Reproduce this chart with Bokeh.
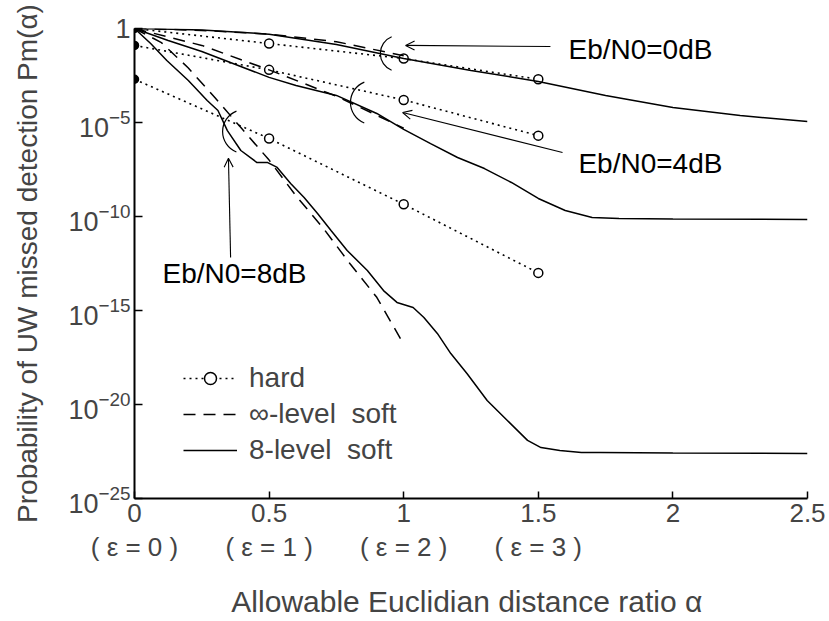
from bokeh.plotting import figure
from bokeh.models import (Range1d, FixedTicker, LinearAxis, CustomJSTickFormatter,
                          LogTickFormatter, Legend, LegendItem, Arrow, OpenHead, Label)
from bokeh.embed import file_html
from bokeh.resources import INLINE

FONT = "Liberation Sans"

# ---------------- data (y given as log10 of probability) ----------------
x_ticks = [0, 0.5, 1, 1.5, 2, 2.5]
x_tick_labels = ["0", "0.5", "1", "1.5", "2", "2.5"]
eps_labels = ["( ε = 0 )", "( ε = 1 )", "( ε = 2 )", "( ε = 3 )", "", ""]
y_ticks = [1e-25, 1e-20, 1e-15, 1e-10, 1e-5, 1]

# hard decision (dotted + circles)
hard_x = [0, 0.5, 1.0, 1.5]
hard_0dB = [0.0, -0.8, -1.6, -2.7]
hard_4dB = [-0.9, -2.2, -3.8, -5.7]
hard_8dB = [-2.7, -5.85, -9.35, -13.0]

# infinite-level soft (dashed)
inf_0dB_x = [0, 0.25, 0.5, 0.75, 1.0]
inf_0dB = [0.0, -0.1, -0.3, -0.7, -1.45]
inf_4dB_x = [0, 0.25, 0.5, 0.75, 1.0]
inf_4dB = [0.0, -0.9, -2.2, -3.6, -5.3]
inf_8dB_x = [0, 0.1, 0.2, 0.3, 0.4, 0.5, 0.6, 0.7, 0.8, 0.9, 1.0]
inf_8dB = [0.0, -0.75, -2.1, -3.7, -5.35, -7.0, -8.9, -10.6, -12.5, -14.3, -16.8]

# 8-level soft (solid)
s8_0dB_x = [0, 0.1, 0.25, 0.5, 0.75, 1.0, 1.25, 1.5, 1.75, 2.0, 2.25, 2.5]
s8_0dB = [0.0, -0.02, -0.08, -0.3, -0.85, -1.6, -2.23, -2.82, -3.56, -4.2, -4.63, -4.95]
s8_4dB_x = [0, 0.125, 0.25, 0.5, 0.6, 0.75, 0.9, 1.0, 1.1, 1.2, 1.3, 1.4, 1.5,
            1.6, 1.7, 1.8, 2.0, 2.5]
s8_4dB = [0.0, -0.64, -1.22, -2.6, -3.03, -3.56, -4.52, -5.37, -6.12, -6.86, -7.45,
          -8.19, -9.04, -9.68, -10.05, -10.1, -10.13, -10.16]
s8_8dB_x = [0, 0.06, 0.12, 0.2, 0.27, 0.31, 0.345, 0.395, 0.455, 0.495, 0.53, 0.58,
            0.63, 0.68, 0.73, 0.79, 0.865, 0.925, 0.975, 1.035, 1.075, 1.125, 1.175,
            1.235, 1.31, 1.385, 1.46, 1.51, 1.58, 1.66, 1.73, 2.0, 2.5]
s8_8dB = [0.0, -0.8, -1.7, -2.77, -3.83, -4.36, -5.43, -6.49, -7.13, -7.13, -7.39,
          -8.24, -8.99, -9.84, -10.74, -11.81, -12.87, -13.94, -14.57, -14.84, -15.37,
          -16.22, -17.29, -18.35, -19.79, -20.85, -21.91, -22.29, -22.45, -22.55,
          -22.55, -22.58, -22.6]


def pw(a):
    return [10.0 ** v for v in a]


p = figure(width=829, height=621, y_axis_type="log",
           x_range=Range1d(0, 2.5), y_range=Range1d(1e-25, 1),
           output_backend="svg", toolbar_location=None,
           min_border_left=134, min_border_right=22, min_border_top=28,
           min_border_bottom=123, background_fill_color="white",
           border_fill_color="white")
p.grid.visible = False
p.outline_line_color = None

LW = 1.5
DOT = "2 4"
DASH = "12 8"

# hard
hard_rs = []
for ys in (hard_0dB, hard_4dB, hard_8dB):
    rl = p.line(hard_x, pw(ys), line_color="black", line_width=1.6, line_dash=DOT)
    rs = p.scatter(hard_x[1:], pw(ys[1:]), marker="circle", size=9, fill_color="white",
                   line_color="black", line_width=1.5)
    p.scatter(hard_x[:1], pw(ys[:1]), marker="circle", size=8, fill_color="black",
              line_color="black", line_width=1.5)
    hard_rs.append((rl, rs))

inf_rs = []
for xs, ys in ((inf_0dB_x, inf_0dB), (inf_4dB_x, inf_4dB), (inf_8dB_x, inf_8dB)):
    inf_rs.append(p.line(xs, pw(ys), line_color="black", line_width=LW, line_dash=DASH))

s8_rs = []
for xs, ys in ((s8_0dB_x, s8_0dB), (s8_4dB_x, s8_4dB), (s8_8dB_x, s8_8dB)):
    s8_rs.append(p.line(xs, pw(ys), line_color="black", line_width=LW))

# brackets grouping curves
p.arc(x=[0.98, 0.884, 0.409], y=pw([-1.33, -3.94, -5.48]), radius=[18, 22, 22],
      radius_units="screen", start_angle=1.95, end_angle=4.33,
      line_color="black", line_width=1.2)

# annotations
arrows = [((1.545, -0.96), (1.007, -0.9)),
          ((1.59, -6.6), (0.996, -4.47)),
          ((0.357, -12.18), (0.349, -6.9))]
for (xs, ys), (xe, ye) in arrows:
    p.add_layout(Arrow(end=OpenHead(size=9, line_width=1.1, line_color="black"),
                       x_start=xs, y_start=10 ** ys, x_end=xe, y_end=10 ** ye,
                       line_width=1.1, line_color="black"))

for txt, xx, yy in (("Eb/N0=0dB", 1.612, -1.12), ("Eb/N0=4dB", 1.649, -7.18),
                    ("Eb/N0=8dB", 0.104, -13.03)):
    p.add_layout(Label(x=xx, y=10 ** yy, text=txt, text_font=FONT,
                       text_font_size="28px", text_baseline="middle",
                       text_color="black"))

LOOKUP = "const i = xt.indexOf(tick); return i >= 0 ? lbls[i] : '';"

# axes
xa = p.xaxis[0]
xa.ticker = FixedTicker(ticks=x_ticks)
xa.formatter = CustomJSTickFormatter(args=dict(xt=x_ticks, lbls=x_tick_labels), code=LOOKUP)
xa.major_tick_in = 7
xa.major_tick_out = 0
xa.minor_tick_in = 0
xa.minor_tick_out = 0
xa.axis_line_width = 2
xa.major_tick_line_width = 1.5
xa.major_label_text_font = FONT
xa.major_label_text_font_size = "26px"
xa.major_label_standoff = 5

xa2 = LinearAxis(ticker=FixedTicker(ticks=x_ticks),
                 formatter=CustomJSTickFormatter(args=dict(xt=x_ticks, lbls=eps_labels),
                                                 code=LOOKUP),
                 axis_line_color=None, major_tick_line_color=None,
                 minor_tick_line_color=None, major_tick_in=0, major_tick_out=0,
                 major_label_text_font=FONT, major_label_text_font_size="26px",
                 major_label_standoff=7,
                 axis_label="Allowable Euclidian distance ratio  α",
                 axis_label_text_font=FONT, axis_label_text_font_size="30px",
                 axis_label_text_font_style="normal", axis_label_standoff=20)
p.add_layout(xa2, "below")

ya = p.yaxis[0]
ya.ticker = FixedTicker(ticks=y_ticks)
ya.formatter = LogTickFormatter(min_exponent=1)
ya.major_tick_in = 8
ya.major_tick_out = 0
ya.minor_tick_in = 0
ya.minor_tick_out = 0
ya.axis_line_width = 2
ya.major_tick_line_width = 1.5
ya.major_label_text_font = FONT
ya.major_label_text_font_size = "27px"
ya.major_label_standoff = 4
ya.axis_label = "Probability of UW missed detection Pm(α)"
ya.axis_label_text_font = FONT
ya.axis_label_text_font_size = "28px"
ya.axis_label_text_font_style = "normal"
ya.axis_label_standoff = 22

legend = Legend(items=[LegendItem(label="hard", renderers=list(hard_rs[0])),
                       LegendItem(label="∞-level  soft", renderers=[inf_rs[0]]),
                       LegendItem(label="8-level  soft", renderers=[s8_rs[0]])],
                location=(49, 32), border_line_color=None, background_fill_alpha=0,
                padding=0, margin=0, spacing=4, glyph_width=54, glyph_height=30,
                label_height=30, label_standoff=12, label_text_font=FONT,
                label_text_font_size="28px", label_text_baseline="middle")
p.add_layout(legend)

open("out.html", "w").write(file_html(p, INLINE))
